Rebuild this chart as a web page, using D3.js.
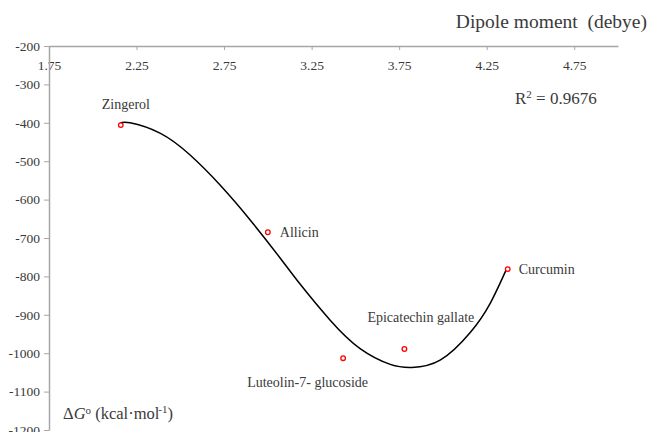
<!DOCTYPE html>
<html>
<head>
<meta charset="utf-8">
<script src="https://cdn.jsdelivr.net/npm/d3@7"></script>
<style>
  body { margin: 0; background: #fff; }
  svg { display: block; }
  text { font-family: "Liberation Serif", serif; fill: #3a3a3a; }
</style>
</head>
<body>
<svg id="canvas" width="650" height="432"></svg>
<script>
// compounds: dipole moment (debye) vs ΔG° (kcal/mol)
const names = ["Zingerol", "Allicin", "Luteolin-7- glucoside", "Epicatechin gallate", "Curcumin"];
const dipole = [2.16, 3.0, 3.43, 3.78, 4.37];
const deltaG = [-406, -685, -1013, -989, -781];

// polynomial trendline
const trendX = [2.156, 2.213, 2.384, 2.556, 2.727, 2.899, 3.07, 3.184, 3.356, 3.527, 3.699, 3.823, 3.984, 4.156, 4.27, 4.365];
const trendY = [-401, -400, -427, -484, -562, -653, -752, -820, -914, -988, -1029, -1037, -1018, -946, -870, -779];

const xTicks = [1.75, 2.25, 2.75, 3.25, 3.75, 4.25, 4.75];
const yTicks = [-200, -300, -400, -500, -600, -700, -800, -900, -1000, -1100, -1200];
const rSquared = "0.9676";

// label placement relative to each point
const labelOffset = [[-19, -16], [12, 5], [-96, 29], [-37, -27], [11, 5]];

const canvas = d3.select("#canvas");

const x = d3.scaleLinear().domain([1.75, 5.0]).range([49, 618]);
const y = d3.scaleLinear().domain([-1200, -200]).range([430, 46]);

// top x axis (sits at y = -200)
const xAxis = canvas.append("g")
  .attr("transform", `translate(0,${y(-200)})`)
  .call(d3.axisBottom(x).tickValues(xTicks).tickSize(4).tickSizeOuter(0).tickFormat(d3.format(".2f")));
xAxis.select(".domain").attr("stroke", "#a6a6a6").attr("stroke-width", 1.5);
xAxis.selectAll(".tick line").attr("stroke", "#a6a6a6");
xAxis.selectAll(".tick text")
  .attr("y", 14)
  .style("font-family", "Liberation Serif")
  .style("font-size", "13.5px")
  .attr("fill", "#404040");

// left y axis
const yAxis = canvas.append("g")
  .attr("transform", `translate(${x(1.75)},0)`)
  .call(d3.axisLeft(y).tickValues(yTicks).tickSize(5).tickSizeOuter(0).tickFormat(d3.format("d")));
yAxis.select(".domain").attr("stroke", "#a6a6a6").attr("stroke-width", 1.5);
yAxis.selectAll(".tick line").attr("stroke", "#a6a6a6");
yAxis.selectAll(".tick text")
  .attr("x", -9)
  .text((d) => "-" + Math.abs(d))
  .style("font-family", "Liberation Serif")
  .style("font-size", "13.5px")
  .attr("fill", "#404040");

// trendline
const trend = trendX.map((v, i) => [v, trendY[i]]);
canvas.append("path")
  .datum(trend)
  .attr("fill", "none")
  .attr("stroke", "#000")
  .attr("stroke-width", 1.5)
  .attr("d", d3.line().x((d) => x(d[0])).y((d) => y(d[1])).curve(d3.curveNatural));

// points
const points = names.map((n, i) => ({ name: n, dx: dipole[i], g: deltaG[i], off: labelOffset[i] }));
canvas.selectAll("circle.pt")
  .data(points)
  .enter()
  .append("circle")
  .attr("class", "pt")
  .attr("cx", (d) => x(d.dx))
  .attr("cy", (d) => y(d.g))
  .attr("r", 2.3)
  .attr("fill", "#fff")
  .attr("stroke", "#ff0000")
  .attr("stroke-width", 1.3);

canvas.selectAll("text.lbl")
  .data(points)
  .enter()
  .append("text")
  .attr("class", "lbl")
  .attr("x", (d) => x(d.dx) + d.off[0])
  .attr("y", (d) => y(d.g) + d.off[1])
  .style("font-size", "14px")
  .text((d) => d.name);

// axis titles
canvas.append("text")
  .attr("x", 647)
  .attr("y", 28)
  .attr("text-anchor", "end")
  .attr("xml:space", "preserve")
  .style("font-size", "19.5px")
  .text("Dipole moment  (debye)");

const rText = canvas.append("text")
  .attr("x", 515)
  .attr("y", 104)
  .style("font-size", "17px");
rText.append("tspan").text("R");
rText.append("tspan").text("2").attr("dy", -6).style("font-size", "11px");
rText.append("tspan").text(" = " + rSquared).attr("dy", 6);

const gText = canvas.append("text")
  .attr("x", 63)
  .attr("y", 419)
  .style("font-size", "16.5px");
gText.append("tspan").text("Δ");
gText.append("tspan").text("G").style("font-style", "italic");
gText.append("tspan").text("o").attr("dy", -5).style("font-size", "11px");
gText.append("tspan").text(" (kcal·mol").attr("dy", 5);
gText.append("tspan").text("-1").attr("dy", -6).attr("dx", -1).style("font-size", "11px");
gText.append("tspan").text(")").attr("dy", 6);
</script>
</body>
</html>
